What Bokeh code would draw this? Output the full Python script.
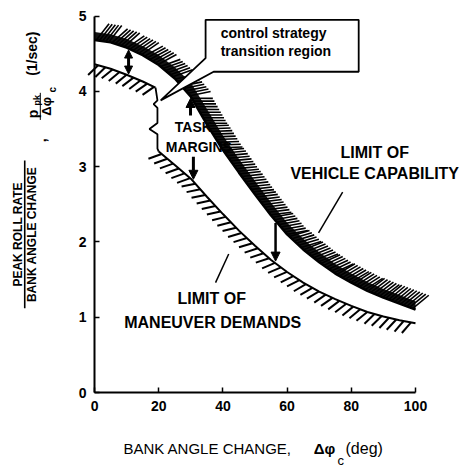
import numpy as np
from bokeh.plotting import figure
from bokeh.models import Arrow, NormalHead, Range1d
from bokeh.embed import file_html
from bokeh.resources import INLINE
from bokeh.core.properties import value

# ---------------- data ----------------
cap_x = [0, 5, 10, 15, 20, 25, 30, 35, 40, 45, 50, 55, 60, 65, 70, 75, 80, 85, 90, 95, 100]
cap_y = [4.68, 4.65, 4.58, 4.48, 4.35, 4.17, 3.93, 3.56, 3.22, 2.92, 2.63, 2.35, 2.10,
         1.90, 1.73, 1.58, 1.46, 1.35, 1.26, 1.18, 1.10]
dem1_x = [0, 5, 10, 15, 19]
dem1_y = [4.36, 4.30, 4.22, 4.13, 4.05]
dem2_x = [20, 25, 30, 35, 40, 45, 50, 55, 60, 65, 70, 75, 80, 85, 90, 95, 100]
dem2_y = [3.20, 3.02, 2.84, 2.60, 2.37, 2.15, 1.95, 1.76, 1.60, 1.46, 1.34, 1.24, 1.15,
          1.07, 1.01, 0.96, 0.92]
x_ticks = [0, 20, 40, 60, 80, 100]
y_ticks = [0, 1, 2, 3, 4, 5]

# ---------------- figure ----------------
FONT = "Liberation Sans"
W, H = 467, 468
X0, X1 = -29.3, 116.2
Y0, Y1 = -1.009, 5.206
p = figure(width=W, height=H, x_range=Range1d(X0, X1), y_range=Range1d(Y0, Y1),
           output_backend="svg", toolbar_location=None,
           min_border_left=0, min_border_right=0, min_border_top=0, min_border_bottom=0)
p.outline_line_color = None
p.xgrid.visible = False
p.ygrid.visible = False
p.background_fill_color = "white"
p.border_fill_color = "white"

for ax, bnds, tk in ((p.xaxis, (0, 100), x_ticks), (p.yaxis, (0, 5), y_ticks)):
    ax.fixed_location = 0
    ax.bounds = bnds
    ax.ticker = tk
    ax.axis_line_width = 2
    ax.axis_line_color = "black"
    ax.major_tick_in = 5
    ax.major_tick_out = 0
    ax.major_tick_line_width = 1.5
    ax.minor_tick_line_color = None
    ax.major_label_text_font = FONT
    ax.major_label_text_font_style = "bold"
    ax.major_label_text_font_size = "14px"
    ax.major_label_text_color = "black"
    ax.major_label_standoff = 8

sx = W / (X1 - X0)
sy = H / (Y1 - Y0)

def perp(xs, ys):
    xs = np.asarray(xs, float); ys = np.asarray(ys, float)
    s = np.gradient(ys, xs) * sy / sx
    return np.sqrt(1 + s ** 2) / sy

def hatch(xs, ys, spacing, length, side, tilt_deg=30.0):
    px = (np.asarray(xs, float) - X0) * sx
    py = (np.asarray(ys, float) - Y0) * sy
    dpx, dpy = np.diff(px), np.diff(py)
    seg = np.hypot(dpx, dpy)
    cum = np.concatenate([[0.0], np.cumsum(seg)])
    ss = np.arange(spacing / 2, cum[-1], spacing)
    hx = np.interp(ss, cum, px)
    hy = np.interp(ss, cum, py)
    idx = np.clip(np.searchsorted(cum, ss) - 1, 0, len(seg) - 1)
    tx, ty = dpx[idx] / seg[idx], dpy[idx] / seg[idx]
    nx, ny = -ty * side, tx * side
    t = np.radians(tilt_deg)
    dx = nx * np.cos(t) + ny * np.sin(t)
    dy = -nx * np.sin(t) + ny * np.cos(t)
    ex, ey = hx + dx * length, hy + dy * length
    return hx / sx + X0, hy / sy + Y0, ex / sx + X0, ey / sy + Y0

def txt(x, y, t, size, style="bold", angle=0.0, align="center"):
    p.text(x=[x], y=[y], text=[t], angle=angle, text_font=value(FONT),
           text_font_size=size, text_font_style=style, text_color="black",
           text_align=align, text_baseline="middle")

# TASK MARGINS text (drawn first so the band covers part of it)
txt(25.0, 3.52, "TASK", "14px", align="left")
txt(22.2, 3.26, "MARGINS", "14px", align="left")

# maneuver demands: line with hatching below
for xs, ys in ((dem1_x, dem1_y), (dem2_x, dem2_y)):
    a, b, c, d = hatch(xs, ys, 7.5, 14, -1, 30)
    p.segment(a, b, c, d, line_color="black", line_width=2)
    p.line(xs, ys, line_color="black", line_width=2)

# vehicle capability: dark band with hatching above
cy = np.asarray(cap_y)
a, b, c, d = hatch(cap_x, cap_y, 3.2, 21, 1, 30)
p.segment(a, b, c, d, line_color="black", line_width=1.6)
p.varea(x=cap_x, y1=cy, y2=cy + 8 * perp(cap_x, cap_y), fill_color="black", fill_alpha=0.92)
p.line(cap_x, cap_y, line_color="black", line_width=2.5)

# transition-region zigzag (joins the two parts of the demands curve)
zz_x = [dem1_x[-1], 19.6, 18.4, 19.6, 19.6, 17.1, 19.6, 19.6, dem2_x[0]]
zz_y = [dem1_y[-1], 3.88, 3.83, 3.78, 3.58, 3.50, 3.43, 3.24, dem2_y[0]]
p.line(zz_x, zz_y, line_color="black", line_width=1.8)

# callout box with pointer
bx = [34.6, 82.3, 82.3, 37.1, 20.6, 34.6]
by = [4.95, 4.95, 4.26, 4.26, 3.88, 4.44]
p.patch(bx, by, fill_color="white", line_color="black", line_width=1.8)
txt(39.3, 4.78, "control strategy", "14px", align="left")
txt(39.3, 4.53, "transition region", "14px", align="left")

# label pointers
p.line([77.3, 69.8], [2.66, 2.12], line_color="black", line_width=1.5)
p.line([37.7, 41.8], [1.46, 1.84], line_color="black", line_width=1.5)

txt(87.3, 3.19, "LIMIT OF", "16px")
txt(87.3, 2.91, "VEHICLE CAPABILITY", "16px")
txt(36.5, 1.25, "LIMIT OF", "16px")
txt(36.8, 0.93, "MANEUVER DEMANDS", "16px")

# margin arrows
def cap_at(x):
    return float(np.interp(x, cap_x, cap_y))

def dem_at(x):
    if x < 19.5:
        return float(np.interp(x, dem1_x, dem1_y))
    return float(np.interp(x, dem2_x, dem2_y))

def head(sz=9):
    return NormalHead(size=sz, fill_color="black", line_color="black")

x1 = 10.6
p.add_layout(Arrow(start=head(8), end=head(8), x_start=x1, y_start=cap_at(x1) - 0.02,
                   x_end=x1, y_end=dem_at(x1) + 0.02, line_width=3))
p.add_layout(Arrow(end=head(9), x_start=29.9, y_start=3.68, x_end=29.9,
                   y_end=cap_at(29.9) - 0.03, line_width=3))
p.add_layout(Arrow(end=head(9), x_start=30.8, y_start=3.13, x_end=30.8,
                   y_end=dem_at(30.8) + 0.03, line_width=3))
x4 = 56.4
p.add_layout(Arrow(end=head(9), x_start=x4, y_start=cap_at(x4) - 0.03, x_end=x4,
                   y_end=dem_at(x4) + 0.03, line_width=2.5))

# ---------------- axis titles ----------------
R = np.pi / 2
txt(-24.0, 2.10, "PEAK ROLL RATE", "12px", angle=R)
p.line([-21.75, -21.75], [1.12, 3.08], line_color="black", line_width=1.6)
txt(-19.6, 2.10, "BANK ANGLE CHANGE", "12px", angle=R)
txt(-16.6, 3.35, ",", "14px", angle=R)
txt(-19.2, 3.70, "p", "14px", angle=R)
txt(-18.0, 3.88, "pk", "9px", angle=R)
p.line([-16.9, -16.9], [3.62, 3.98], line_color="black", line_width=1.0)
txt(-14.9, 3.80, "Δφ", "13px", angle=R)
txt(-13.0, 4.02, "c", "10px", angle=R)
txt(-19.6, 4.50, "(1/sec)", "14px", angle=R)

txt(9.0, -0.74, "BANK ANGLE CHANGE,", "15px", style="normal", align="left")
txt(68.3, -0.74, "Δφ", "15px", style="bold", align="left")
txt(75.7, -0.90, "c", "13px", style="normal", align="left")
txt(78.2, -0.74, "(deg)", "16px", style="normal", align="left")

open("out.html", "w").write(file_html(p, INLINE))
